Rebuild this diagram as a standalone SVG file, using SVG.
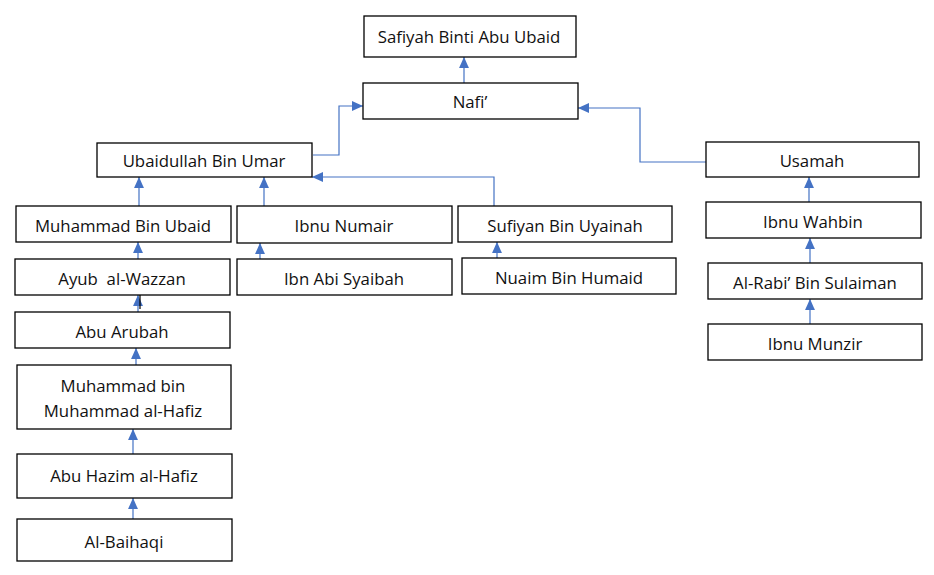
<svg xmlns="http://www.w3.org/2000/svg" width="934" height="575" viewBox="0 0 934 575">
<style>
.box{fill:#fff;stroke:#000;stroke-width:1.3}
.t{font-family:"Open Sans","Liberation Sans",sans-serif;font-size:16.8px;fill:#111;text-anchor:middle;dominant-baseline:central}
.c{fill:none;stroke:#4472C4;stroke-width:1.2}
</style>
<defs>
<marker id="ah" markerUnits="userSpaceOnUse" markerWidth="11" markerHeight="11" viewBox="0 0 10 10" refX="10" refY="5" orient="auto">
<path d="M0,0.5 L10,5 L0,9.5 Z" fill="#4472C4"/>
</marker>
</defs>
<rect width="934" height="575" fill="#fff"/>
<g id="connectors">
<path class="c" d="M464,83 V57" marker-end="url(#ah)"/>
<path class="c" d="M313,155 H339 V106 H363" marker-end="url(#ah)"/>
<path class="c" d="M706,162 H640 V108 H578" marker-end="url(#ah)"/>
<path class="c" d="M139,206 V177" marker-end="url(#ah)"/>
<path class="c" d="M264,206 V177" marker-end="url(#ah)"/>
<path class="c" d="M494,206 V177 H312" marker-end="url(#ah)"/>
<path class="c" d="M138,259 V242" marker-end="url(#ah)"/>
<path class="c" d="M260,259 V243" marker-end="url(#ah)"/>
<path class="c" d="M497,258 V242" marker-end="url(#ah)"/>
<path class="c" d="M138,312 V295" marker-end="url(#ah)"/>
<path d="M140,287 V309" stroke="#000" stroke-width="1.2"/>
<path class="c" d="M136,365 V348" marker-end="url(#ah)"/>
<path class="c" d="M133,454 V429" marker-end="url(#ah)"/>
<path class="c" d="M133,519 V498" marker-end="url(#ah)"/>
<path class="c" d="M809,202 V177" marker-end="url(#ah)"/>
<path class="c" d="M810,263 V238" marker-end="url(#ah)"/>
<path class="c" d="M810,324 V299" marker-end="url(#ah)"/>
</g>
<g id="safiyah"><rect class="box" x="364" y="16" width="212" height="41"/><text class="t" x="469" y="36.5">Safiyah Binti Abu Ubaid</text></g>
<g id="nafi"><rect class="box" x="363" y="83" width="215" height="36"/><text class="t" x="470" y="101">Nafi’</text></g>
<g id="ubaidullah"><rect class="box" x="97" y="143" width="215" height="34"/><text class="t" x="204" y="160">Ubaidullah Bin Umar</text></g>
<g id="usamah"><rect class="box" x="706" y="142" width="213" height="35"/><text class="t" x="812" y="160">Usamah</text></g>
<g id="muhammad-bin-ubaid"><rect class="box" x="16" y="206" width="215" height="36"/><text class="t" x="123" y="225">Muhammad Bin Ubaid</text></g>
<g id="ibnu-numair"><rect class="box" x="237" y="206" width="215" height="37"/><text class="t" x="344" y="225.5">Ibnu Numair</text></g>
<g id="sufiyan"><rect class="box" x="458" y="206" width="214" height="36"/><text class="t" x="565" y="225">Sufiyan Bin Uyainah</text></g>
<g id="ibnu-wahbin"><rect class="box" x="706" y="202" width="215" height="36"/><text class="t" x="813" y="221">Ibnu Wahbin</text></g>
<g id="ayub"><rect class="box" x="15" y="259" width="215" height="36"/><text class="t" x="122" y="278" xml:space="preserve">Ayub  al-Wazzan</text></g>
<g id="ibn-abi-syaibah"><rect class="box" x="237" y="259" width="215" height="36"/><text class="t" x="344" y="278">Ibn Abi Syaibah</text></g>
<g id="nuaim"><rect class="box" x="462" y="258" width="214" height="36"/><text class="t" x="569" y="277">Nuaim Bin Humaid</text></g>
<g id="al-rabi"><rect class="box" x="708" y="263" width="214" height="36"/><text class="t" x="815" y="282">Al-Rabi’ Bin Sulaiman</text></g>
<g id="abu-arubah"><rect class="box" x="15" y="312" width="215" height="36"/><text class="t" x="122" y="331">Abu Arubah</text></g>
<g id="ibnu-munzir"><rect class="box" x="708" y="324" width="214" height="36"/><text class="t" x="815" y="343">Ibnu Munzir</text></g>
<g id="muhammad-bin-muhammad"><rect class="box" x="17" y="365" width="214" height="64"/><text class="t" x="123" y="385">Muhammad bin</text><text class="t" x="123" y="410">Muhammad al-Hafiz</text></g>
<g id="abu-hazim"><rect class="box" x="17" y="454" width="215" height="44"/><text class="t" x="124" y="475">Abu Hazim al-Hafiz</text></g>
<g id="al-baihaqi"><rect class="box" x="17" y="519" width="215" height="42"/><text class="t" x="124" y="541">Al-Baihaqi</text></g>
</svg>
